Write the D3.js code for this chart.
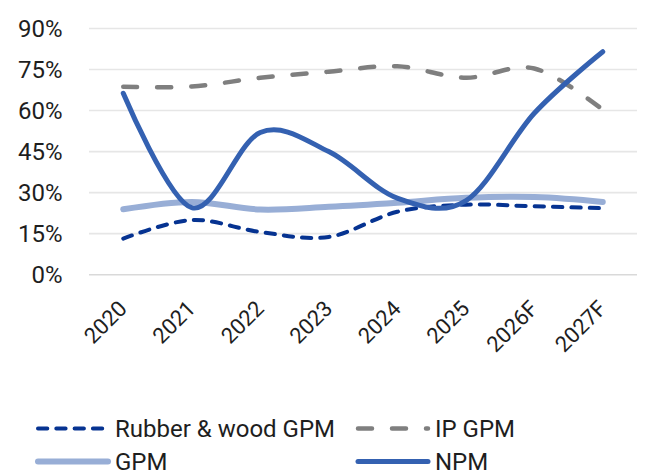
<!DOCTYPE html>
<html>
<head>
<meta charset="utf-8">
<script src="https://cdn.jsdelivr.net/npm/d3@7"></script>
<style>
  html, body { margin: 0; padding: 0; background: #fff; }
  svg { display: block; font-family: Roboto, "Noto Sans", sans-serif; }
</style>
</head>
<body>
<svg id="chart" width="646" height="475"></svg>
<script>
// Margin data by year, in percent
const years = ["2020", "2021", "2022", "2023", "2024", "2025", "2026F", "2027F"];
const rubberWoodGPM = [13.2, 20.0, 15.6, 13.8, 23.0, 25.6, 25.0, 24.3];
const ipGPM = [68.7, 68.8, 72.0, 74.2, 76.2, 72.0, 75.4, 60.3];
const gpm = [23.9, 26.6, 23.8, 24.8, 26.3, 28.1, 28.4, 26.6];
const npm = [66.3, 24.5, 52.0, 45.0, 28.0, 27.0, 59.0, 81.5];
const yTicks = [0, 15, 30, 45, 60, 75, 90];

const series = [
  { name: "Rubber & wood GPM", values: rubberWoodGPM, color: "#063391", width: 4, dash: "9.3 9", col: 0, row: 0 },
  { name: "IP GPM", values: ipGPM, color: "#7f7f7f", width: 4.5, dash: "14 20", col: 1, row: 0 },
  { name: "GPM", values: gpm, color: "#98aed6", width: 6, dash: null, col: 0, row: 1 },
  { name: "NPM", values: npm, color: "#3461b1", width: 5, dash: null, col: 1, row: 1 }
];

const svg = d3.select("#chart");
const plot = { left: 89, right: 637, top: 28.5, bottom: 274.7 };

const x = d3.scalePoint().domain(years).range([plot.left, plot.right]).padding(0.5);
const y = d3.scaleLinear().domain([0, 90]).range([plot.bottom, plot.top]);

// Horizontal gridlines
svg.append("g")
  .selectAll("line")
  .data(yTicks)
  .join("line")
  .attr("x1", plot.left).attr("x2", plot.right)
  .attr("y1", d => y(d)).attr("y2", d => y(d))
  .attr("stroke", d => d === 0 ? "#d9d9d9" : "#e6e6e6")
  .attr("stroke-width", 1.6);

// Y axis labels
svg.append("g")
  .selectAll("text")
  .data(yTicks)
  .join("text")
  .attr("x", 62.5)
  .attr("y", d => y(d))
  .attr("dy", "0.36em")
  .attr("text-anchor", "end")
  .attr("font-size", 24)
  .attr("fill", "#1e1e1e")
  .text(d => d + "%");

// X axis labels, rotated
svg.append("g")
  .selectAll("text")
  .data(years)
  .join("text")
  .attr("transform", d => `translate(${x(d) + 5},310) rotate(-45)`)
  .attr("text-anchor", "end")
  .attr("font-size", 22)
  .attr("fill", "#1e1e1e")
  .text(d => d);

// Smoothed series lines
const line = d3.line()
  .x((d, i) => x(years[i]))
  .y(d => y(d))
  .curve(d3.curveCatmullRom.alpha(0));

const order = ["GPM", "Rubber & wood GPM", "IP GPM", "NPM"];
order.forEach(n => {
  const s = series.find(t => t.name === n);
  svg.append("path")
    .datum(s.values)
    .attr("d", line)
    .attr("fill", "none")
    .attr("stroke", s.color)
    .attr("stroke-width", s.width)
    .attr("stroke-linecap", "round")
    .attr("stroke-linejoin", "round")
    .attr("stroke-dasharray", s.dash);
});

// Legend
const legendCols = [38, 358];
const legendRows = [428.5, 461.5];
const legend = svg.append("g");
series.forEach(s => {
  const lx = legendCols[s.col];
  const ly = legendRows[s.row];
  legend.append("line")
    .attr("x1", lx).attr("x2", lx + 70)
    .attr("y1", ly).attr("y2", ly)
    .attr("stroke", s.color)
    .attr("stroke-width", s.width)
    .attr("stroke-linecap", "round")
    .attr("stroke-dasharray", s.dash);
  legend.append("text")
    .attr("x", lx + 77)
    .attr("y", ly)
    .attr("dy", "0.36em")
    .attr("font-size", 24)
    .attr("fill", "#1e1e1e")
    .text(s.name);
});
</script>
</body>
</html>
